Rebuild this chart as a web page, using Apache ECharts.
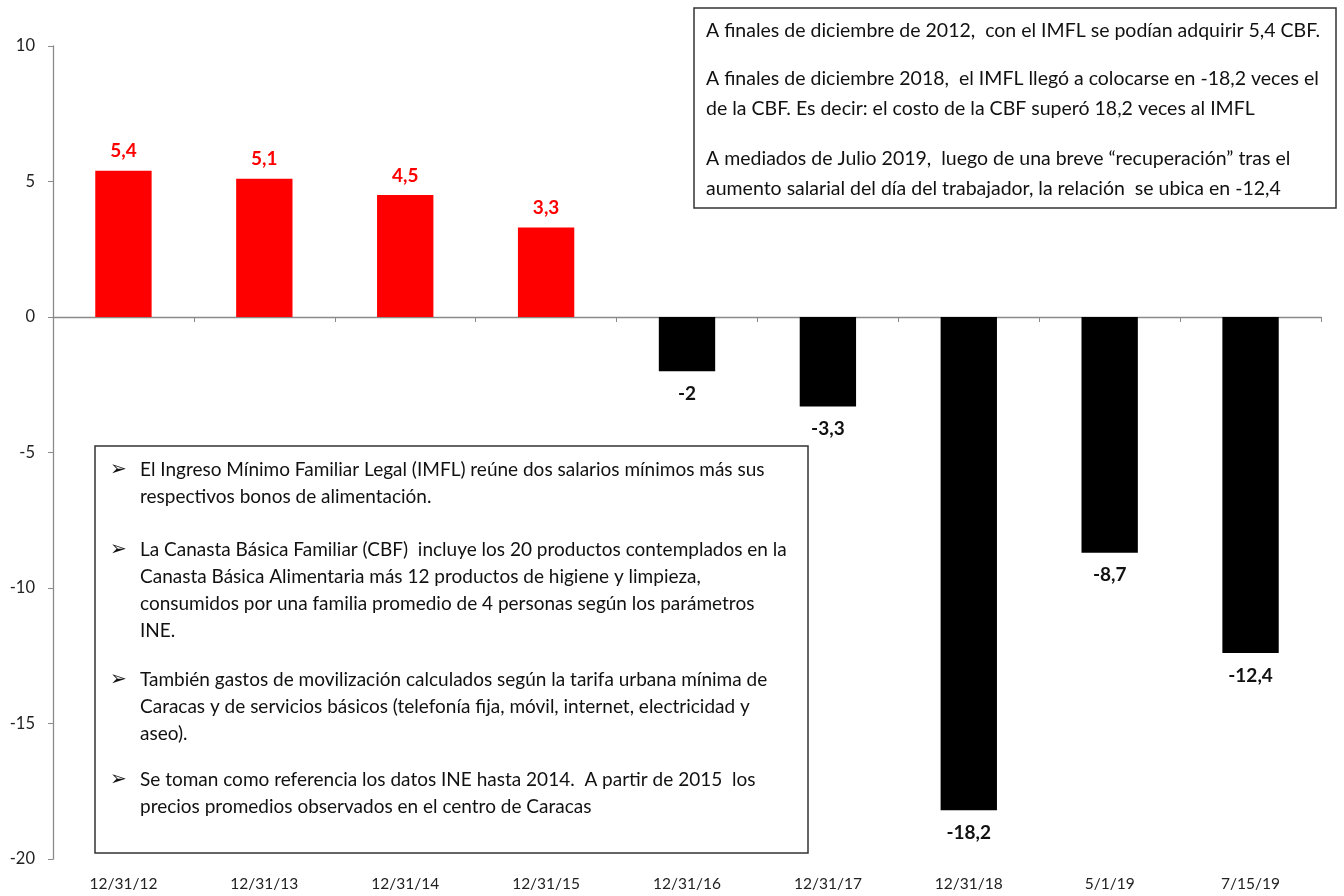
<!DOCTYPE html>
<html>
<head>
<meta charset="utf-8">
<script src="https://cdn.jsdelivr.net/npm/echarts@6/dist/echarts.min.js"></script>
<style>
  html, body { margin: 0; padding: 0; background: #fff; }
  #chart { width: 1344px; height: 896px; }
</style>
</head>
<body>
<div id="chart"></div>
<script>
// Relación IMFL / CBF por fecha
const categories = ['12/31/12', '12/31/13', '12/31/14', '12/31/15', '12/31/16', '12/31/17', '12/31/18', '5/1/19', '7/15/19'];
const ratios = [5.4, 5.1, 4.5, 3.3, -2, -3.3, -18.2, -8.7, -12.4];
const yTicks = { min: -20, max: 10, step: 5 };

// Notas (cada párrafo con sus líneas)
const summaryNotes = [
  ['A finales de diciembre de 2012,  con el IMFL se podían adquirir 5,4 CBF.'],
  ['A finales de diciembre 2018,  el IMFL llegó a colocarse en -18,2 veces el',
   'de la CBF. Es decir: el costo de la CBF superó 18,2 veces al IMFL'],
  ['A mediados de Julio 2019,  luego de una breve “recuperación” tras el',
   'aumento salarial del día del trabajador, la relación  se ubica en -12,4']
];
const methodNotes = [
  ['El Ingreso Mínimo Familiar Legal (IMFL) reúne dos salarios mínimos más sus',
   'respectivos bonos de alimentación.'],
  ['La Canasta Básica Familiar (CBF)  incluye los 20 productos contemplados en la',
   'Canasta Básica Alimentaria más 12 productos de higiene y limpieza,',
   'consumidos por una familia promedio de 4 personas según los parámetros',
   'INE.'],
  ['También gastos de movilización calculados según la tarifa urbana mínima de',
   'Caracas y de servicios básicos (telefonía fija, móvil, internet, electricidad y',
   'aseo).'],
  ['Se toman como referencia los datos INE hasta 2014.  A partir de 2015  los',
   'precios promedios observados en el centro de Caracas']
];

const FONT = 'Lato, "Open Sans", sans-serif';
const TEXT_COLOR = '#111';
const POS_COLOR = '#ff0000';
const NEG_COLOR = '#000000';

const fmt = v => String(v).replace('.', ',');

const barData = ratios.map(v => {
  const pos = v >= 0;
  return {
    value: v,
    itemStyle: { color: pos ? POS_COLOR : NEG_COLOR },
    label: {
      show: true,
      position: pos ? 'top' : 'bottom',
      distance: pos ? 10 : 13,
      color: pos ? POS_COLOR : '#111',
      fontWeight: 'bold',
      fontSize: 19,
      fontFamily: FONT,
      formatter: p => fmt(p.value)
    }
  };
});

// Cuadro de texto con borde
function noteBox(cfg, paragraphs) {
  const children = [{
    type: 'rect',
    shape: { x: cfg.x, y: cfg.y, width: cfg.w, height: cfg.h },
    style: { fill: '#fff', stroke: '#333', lineWidth: 1.5 }
  }];
  paragraphs.forEach((lines, pi) => {
    const y0 = cfg.paraY[pi];
    if (cfg.bullet) {
      children.push({
        type: 'text',
        style: {
          text: '\u27A2', x: cfg.bulletX, y: y0,
          font: '20px "DejaVu Sans"', fill: TEXT_COLOR,
          verticalAlign: 'middle', textVerticalAlign: 'middle'
        }
      });
    }
    lines.forEach((line, li) => {
      children.push({
        type: 'text',
        style: {
          text: line, x: cfg.textX, y: y0 + li * cfg.lineH,
          font: cfg.font, fill: TEXT_COLOR,
          verticalAlign: 'middle', textVerticalAlign: 'middle'
        }
      });
    });
  });
  return { type: 'group', silent: true, children };
}

const chart = echarts.init(document.getElementById('chart'), null, { renderer: 'canvas' });

chart.setOption({
  backgroundColor: '#fff',
  animation: false,
  grid: { left: 53, right: 23, top: 46, bottom: 37, containLabel: false },
  xAxis: [
    {
      type: 'category',
      data: categories,
      position: 'bottom',
      axisLine: { show: false, onZero: false },
      axisTick: { show: false },
      axisLabel: { color: '#222', fontSize: 15.5, fontFamily: FONT, margin: 17 },
      splitLine: { show: false }
    },
    {
      type: 'category',
      data: categories,
      position: 'bottom',
      axisLine: { show: true, onZero: true, lineStyle: { color: '#8a8a8a', width: 1.3 } },
      axisTick: { show: true, length: 5, lineStyle: { color: '#8a8a8a' } },
      axisLabel: { show: false },
      splitLine: { show: false }
    }
  ],
  yAxis: {
    type: 'value',
    min: yTicks.min,
    max: yTicks.max,
    interval: yTicks.step,
    axisLine: { show: true, lineStyle: { color: '#8a8a8a', width: 1.3 } },
    axisTick: { show: true, length: 5, lineStyle: { color: '#8a8a8a' } },
    axisLabel: { color: '#222', fontSize: 16.5, fontFamily: FONT, margin: 18 },
    splitLine: { show: false }
  },
  series: [{
    type: 'bar',
    xAxisIndex: 0,
    barWidth: '40%',
    data: barData
  }],
  graphic: [
    noteBox({ x: 694, y: 8, w: 642, h: 200, textX: 706, paraY: [31, 79, 159], lineH: 30,
              font: '19.5px ' + FONT }, summaryNotes),
    noteBox({ x: 95, y: 446, w: 713, h: 407, textX: 140, bulletX: 110, paraY: [470, 550, 680, 780], lineH: 27,
              font: '19px ' + FONT, bullet: true }, methodNotes)
  ]
});
</script>
</body>
</html>
